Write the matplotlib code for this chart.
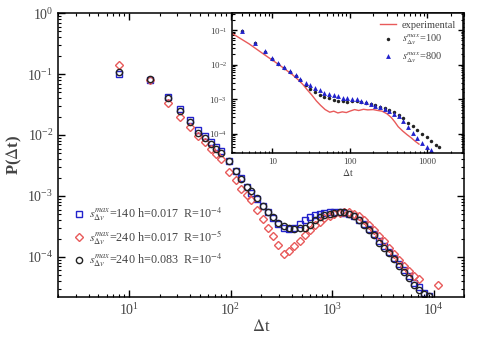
import matplotlib
matplotlib.use("Agg")
import matplotlib.pyplot as plt

plt.rcParams['font.family'] = ['Liberation Serif', 'DejaVu Serif']
plt.rcParams['mathtext.fontset'] = 'stix'

# main panel: waiting time distribution, three model runs
dt = [8, 16, 24, 32, 40, 48, 56, 64, 72, 80, 96, 112, 128, 144, 160, 184, 208, 232,
      264, 296, 336, 376, 424, 480, 536, 600, 672, 752, 840, 944, 1056, 1184, 1320,
      1480, 1656, 1856, 2080, 2320, 2600, 2920, 3264, 3656, 4096, 4584, 5136, 5752,
      6440, 7216, 8080, 9048]
p_s140 = [0.100, 0.081, 0.042, 0.027, 0.0174, 0.0120, 0.0095, 0.0076, 0.0063, 0.0054,
          0.0038, 0.0026, 0.0020, 0.0014, 0.0011, 8.9e-4, 6.8e-4, 5.4e-4, 4.4e-4, 3.5e-4,
          3.0e-4, 2.9e-4, 3.0e-4, 3.5e-4, 4.0e-4, 4.5e-4, 4.9e-4, 5.1e-4, 5.2e-4, 5.4e-4,
          5.4e-4, 5.4e-4, 5.2e-4, 5.0e-4, 4.7e-4, 4.1e-4, 3.5e-4, 2.9e-4, 2.4e-4, 1.8e-4,
          1.5e-4, 1.2e-4, 9.5e-5, 7.6e-5, 6.0e-5, 4.8e-5, 3.8e-5, 3.2e-5, 2.6e-5, 2.3e-5]
p_s240_h017 = [0.14, 0.081, 0.034, 0.020, 0.0138, 0.0095, 0.0076, 0.0060, 0.0048, 0.0040,
               0.0025, 0.0018, 0.0013, 0.00105, 8.5e-4, 6.0e-4, 4.2e-4, 3.0e-4, 2.2e-4,
               1.6e-4, 1.1e-4, 1.25e-4, 1.5e-4, 1.8e-4, 2.3e-4, 2.75e-4, 3.3e-4, 3.8e-4,
               4.3e-4, 4.7e-4, 5.0e-4, 5.2e-4, 5.4e-4, 5.4e-4, 5.1e-4, 4.7e-4, 4.0e-4,
               3.3e-4, 2.8e-4, 2.2e-4, 1.8e-4, 1.4e-4, 1.1e-4, 8.9e-5, 7.1e-5, 5.8e-5,
               4.8e-5, 4.3e-5, 3.5e-5]
dt_red = dt[:48] + [11000]
p_s240_h083 = [0.11, 0.083, 0.040, 0.025, 0.0166, 0.0110, 0.0091, 0.0072, 0.0060, 0.0051,
               0.0037, 0.0026, 0.0019, 0.0014, 0.0012, 9.1e-4, 6.9e-4, 5.5e-4, 4.5e-4,
               3.6e-4, 3.2e-4, 3.0e-4, 2.9e-4, 3.0e-4, 3.0e-4, 3.4e-4, 4.0e-4, 4.6e-4,
               4.9e-4, 5.1e-4, 5.2e-4, 5.4e-4, 5.4e-4, 5.1e-4, 4.7e-4, 4.1e-4, 3.4e-4,
               2.8e-4, 2.3e-4, 1.7e-4, 1.4e-4, 1.15e-4, 9.1e-5, 7.2e-5, 5.6e-5, 4.5e-5,
               3.5e-5, 2.9e-5, 2.5e-5, 2.3e-5]

# inset: experimental vs two thresholds
dt_in = [4, 6, 8, 10, 12, 14, 17, 20, 23, 27, 31, 35, 41, 47, 54, 62, 71, 81, 93, 107,
         123, 141, 162, 186, 214, 245, 282, 324, 372, 427, 490, 562, 646, 741, 851, 977,
         1122, 1288, 1413]
p_in_100 = [0.095, 0.042, 0.023, 0.015, 0.0107, 0.0079, 0.0060, 0.0046, 0.0035, 0.0026,
            0.0020, 0.0016, 0.0013, 0.00117, 0.00105, 9.5e-4, 8.9e-4, 8.7e-4, 8.5e-4,
            8.7e-4, 8.7e-4, 8.5e-4, 7.9e-4, 7.2e-4, 6.6e-4, 6.0e-4, 5.4e-4, 4.8e-4,
            4.2e-4, 3.5e-4, 2.8e-4, 2.1e-4, 1.66e-4, 1.32e-4, 1.0e-4, 7.9e-5, 6.0e-5,
            4.8e-5, 4.0e-5]
p_in_800 = [0.093, 0.043, 0.024, 0.0155, 0.0112, 0.0083, 0.0066, 0.0050, 0.0038, 0.0030,
            0.0025, 0.0021, 0.0018, 0.0015, 0.0014, 0.0013, 0.0012, 0.0011, 0.00107,
            0.00102, 9.8e-4, 9.1e-4, 8.3e-4, 7.4e-4, 6.5e-4, 5.8e-4, 5.1e-4, 4.5e-4,
            3.8e-4, 3.2e-4, 2.4e-4, 1.6e-4, 1.05e-4, 7.6e-5, 5.5e-5, 4.2e-5, 3.4e-5]
dt_exp = [3.0, 5, 8, 12, 18, 22, 25, 28, 32, 37, 42, 48, 55, 62, 70, 80, 90, 100, 115,
          130, 150, 170, 200, 230, 260, 300, 340, 380, 420, 480, 550, 620, 700, 780]
p_exp = [0.081, 0.040, 0.019, 0.0102, 0.0052, 0.0035, 0.0026, 0.0019, 0.00135, 8.9e-4,
         6.6e-4, 5.0e-4, 4.2e-4, 4.5e-4, 4.0e-4, 4.3e-4, 4.1e-4, 4.5e-4, 5.0e-4, 4.7e-4,
         5.1e-4, 4.9e-4, 5.0e-4, 4.7e-4, 4.5e-4, 3.8e-4, 3.0e-4, 2.2e-4, 1.6e-4, 1.2e-4,
         9.3e-5, 7.6e-5, 6.0e-5, 5.0e-5]

lab_main = [r'$s^{max}_{\Delta v}$=140 h=0.017  R=10$^{-4}$',
            r'$s^{max}_{\Delta v}$=240 h=0.017  R=10$^{-5}$',
            r'$s^{max}_{\Delta v}$=240 h=0.083  R=10$^{-4}$']
lab_inset = ['experimental', r'$s^{max}_{\Delta v}$=100', r'$s^{max}_{\Delta v}$=800']

BLUE = '#2222cc'
RED = '#e85a5a'
BLACK = '#222222'
TXT = '#444444'


def style_axes(ax, size):
    ax.set_xscale('log')
    ax.set_yscale('log')
    ax.tick_params(which='both', direction='in', top=True, right=True,
                   labelsize=size, labelcolor=TXT)
    ax.tick_params(which='major', length=5, width=1)
    ax.tick_params(which='minor', length=2.5, width=0.8)
    for s in ax.spines.values():
        s.set_linewidth(1.1)


fig = plt.figure(figsize=(4.8, 3.45), dpi=100)
ax = fig.add_axes([0.121, 0.139, 0.846, 0.823])
style_axes(ax, 10)
ax.plot(dt, p_s140, 's', ms=4.5, mfc='none', mec=BLUE, mew=1, label=lab_main[0])
ax.plot(dt_red, p_s240_h017, 'D', ms=4, mfc='none', mec=RED, mew=1, label=lab_main[1])
ax.plot(dt, p_s240_h083, 'o', ms=4.5, mfc='none', mec=BLACK, mew=1, label=lab_main[2])
ax.set_xlim(2, 2e4)
ax.set_ylim(2.2e-5, 1)
ax.set_xlabel(r'$\Delta$t', fontsize=12, color=TXT, labelpad=1)
ax.set_ylabel(r'P($\Delta$t)', fontsize=12, fontweight='bold', color=TXT, labelpad=2)
ax.legend(loc='lower left', bbox_to_anchor=(0.01, 0.06), frameon=False, fontsize=8.7,
          handletextpad=0.3, labelspacing=0.45, handlelength=1.0, labelcolor=TXT)

# inset
axi = fig.add_axes([0.483, 0.557, 0.482, 0.405])
style_axes(axi, 6.5)
axi.tick_params(which='major', length=3.5)
axi.tick_params(which='minor', length=1.8)
axi.plot(dt_exp, p_exp, '-', color=RED, lw=1, label=lab_inset[0])
axi.plot(dt_in, p_in_100, 'o', ms=2.5, color=BLACK, mew=0, label=lab_inset[1])
axi.plot(dt_in[:len(p_in_800)], p_in_800, '^', ms=3.5, color=BLUE, mew=0,
         label=lab_inset[2])
axi.set_xlim(3, 2900)
axi.set_ylim(2.8e-5, 0.31)
axi.set_xticks([10, 100, 1000])
axi.set_xticklabels(['10', '100', '1000'])
axi.set_xlabel(r'$\Delta$t', fontsize=7, color=TXT, labelpad=1)
axi.legend(loc='upper right', frameon=False, fontsize=7.5, handlelength=1.6,
           handletextpad=0.5, labelspacing=0.3, borderaxespad=0.3, labelcolor=TXT)

fig.savefig('out.png', dpi=100)
